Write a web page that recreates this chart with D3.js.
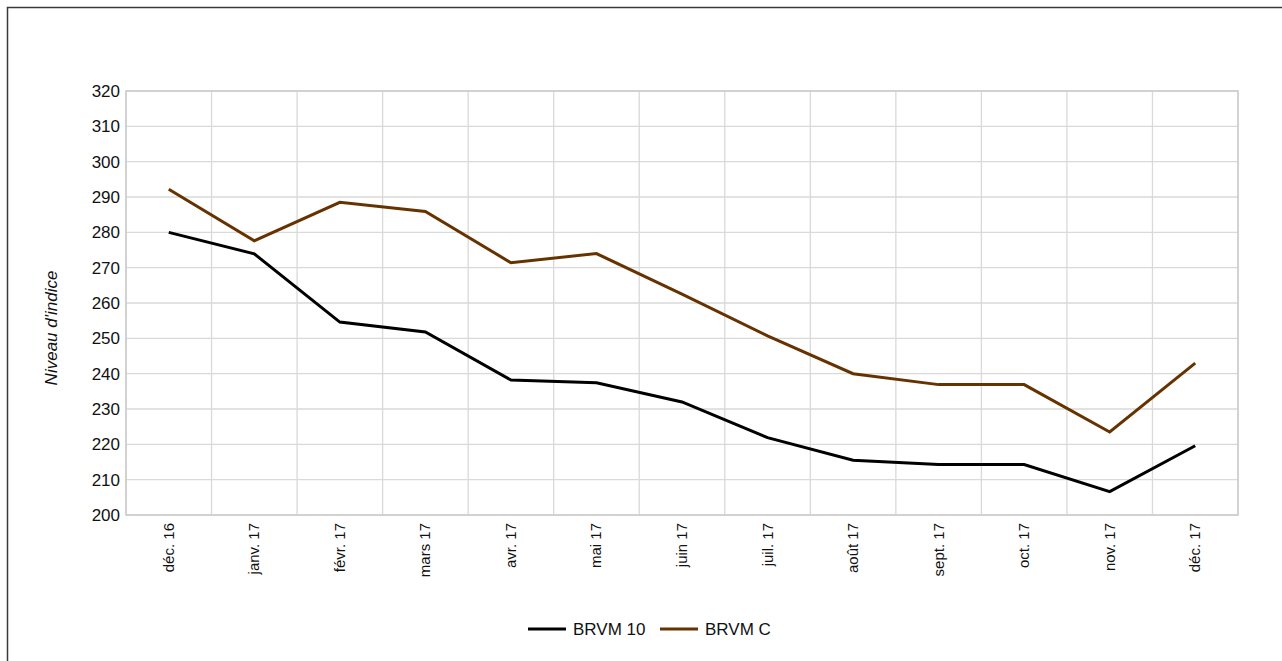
<!DOCTYPE html>
<html><head><meta charset="utf-8">
<script src="https://cdn.jsdelivr.net/npm/d3@7"></script>
<style>
html,body{margin:0;padding:0;background:#fff;}
svg{display:block;font-family:"Liberation Sans",Arial,sans-serif;}
</style></head>
<body>
<svg id="chart" width="1282" height="661"></svg>
<script>
const categories = ["déc. 16","janv. 17","févr. 17","mars 17","avr. 17","mai 17","juin 17","juil. 17","août 17","sept. 17","oct. 17","nov. 17","déc. 17"];
const brvm10 = [280.0, 273.9, 254.6, 251.8, 238.2, 237.4, 232.0, 221.9, 215.5, 214.3, 214.3, 206.6, 219.6];
const brvmC  = [292.2, 277.6, 288.5, 285.9, 271.4, 274.0, 262.5, 250.7, 240.0, 236.9, 236.9, 223.5, 243.0];
const yTicks = [200,210,220,230,240,250,260,270,280,290,300,310,320];
const seriesNames = ["BRVM 10","BRVM C"];
const seriesColors = ["#000000","#663300"];

const svg = d3.select("#chart");
const L = 126, R = 1238, T = 91, B = 515;

svg.append("rect").attr("x",7.5).attr("y",7.5).attr("width",1400).attr("height",800)
  .attr("fill","none").attr("stroke","#3a3a3a").attr("stroke-width",1.5);

const x = d3.scaleBand().domain(categories).range([L,R]).paddingInner(0).paddingOuter(0);
const y = d3.scaleLinear().domain([200,320]).range([B,T]);

// horizontal grid
svg.append("g").selectAll("line").data(yTicks).join("line")
  .attr("x1",L).attr("x2",R).attr("y1",d=>y(d)).attr("y2",d=>y(d))
  .attr("stroke","#d9d9d9").attr("stroke-width",1.3);
// vertical grid at band boundaries
const bounds = categories.map(c=>x(c)).concat([R]);
svg.append("g").selectAll("line").data(bounds).join("line")
  .attr("x1",d=>d).attr("x2",d=>d).attr("y1",T).attr("y2",B)
  .attr("stroke","#d9d9d9").attr("stroke-width",1.3);
// plot frame
svg.append("rect").attr("x",L).attr("y",T).attr("width",R-L).attr("height",B-T)
  .attr("fill","none").attr("stroke","#cccccc").attr("stroke-width",1.5);

// y axis labels
const yAxis = d3.axisLeft(y).tickValues(yTicks).tickSize(0).tickPadding(6);
const gy = svg.append("g").attr("transform",`translate(${L},0)`).call(yAxis);
gy.select(".domain").remove();
gy.selectAll("text").attr("font-size",17).attr("fill","#111").attr("font-family","Liberation Sans, Arial, sans-serif");

// x axis labels
const xAxis = d3.axisBottom(x).tickSize(0).tickPadding(0);
const gx = svg.append("g").attr("transform",`translate(0,${B})`).call(xAxis);
gx.select(".domain").remove();
gx.selectAll("text").attr("font-size",15).attr("fill","#111")
  .attr("font-family","Liberation Sans, Arial, sans-serif")
  .attr("text-anchor","end").attr("dy",null).attr("y",0)
  .attr("transform","translate(5,8) rotate(-90)");

// y title
svg.append("text").attr("transform","translate(57,328) rotate(-90)")
  .attr("text-anchor","middle").attr("font-size",17).attr("font-style","italic")
  .attr("fill","#111").text("Niveau d'indice");

// lines
const line = d3.line().x((d,i)=>x(categories[i])+x.bandwidth()/2).y(d=>y(d));
[brvm10, brvmC].forEach((s,k)=>{
  svg.append("path").datum(s).attr("d",line).attr("fill","none")
    .attr("stroke",seriesColors[k]).attr("stroke-width",3).attr("stroke-linejoin","miter");
});

// legend
const legX = [528, 660];
seriesNames.forEach((n,k)=>{
  svg.append("line").attr("x1",legX[k]).attr("x2",legX[k]+38).attr("y1",629).attr("y2",629)
    .attr("stroke",seriesColors[k]).attr("stroke-width",3);
  svg.append("text").attr("x",legX[k]+45).attr("y",635).attr("font-size",17).attr("fill","#111").text(n);
});
</script>
</body></html>
